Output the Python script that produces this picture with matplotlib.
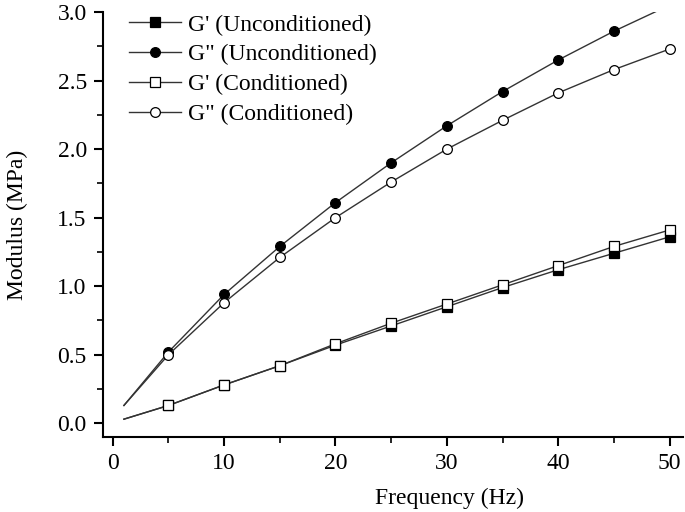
import matplotlib.pyplot as plt
from matplotlib.ticker import MultipleLocator

plt.rcParams['font.family'] = ['Liberation Serif', 'DejaVu Serif']

freq = [1, 5, 10, 15, 20, 25, 30, 35, 40, 45, 50]
g1_uncond = [0.03, 0.13, 0.28, 0.42, 0.57, 0.71, 0.85, 0.99, 1.12, 1.24, 1.36]
g2_uncond = [0.13, 0.52, 0.94, 1.29, 1.61, 1.90, 2.17, 2.42, 2.65, 2.86, 3.05]
g1_cond = [0.03, 0.13, 0.28, 0.42, 0.58, 0.73, 0.87, 1.01, 1.15, 1.29, 1.41]
g2_cond = [0.13, 0.50, 0.88, 1.21, 1.50, 1.76, 2.00, 2.21, 2.41, 2.58, 2.73]

labels = ["G' (Unconditioned)", 'G" (Unconditioned)', "G' (Conditioned)", 'G" (Conditioned)']

fig = plt.figure(figsize=(6.85, 5.12), dpi=100)
ax = fig.add_axes([0.150, 0.1465, 0.847, 0.830])

lc = '#333333'
mk = dict(markersize=7, markeredgecolor='black', markeredgewidth=0.9, markevery=slice(1, None))
ax.plot(freq, g1_uncond, '-', color=lc, lw=1.0, marker='s', markerfacecolor='black', label=labels[0], **mk)
ax.plot(freq, g2_uncond, '-', color=lc, lw=1.0, marker='o', markerfacecolor='black', label=labels[1], **mk)
ax.plot(freq, g1_cond, '-', color=lc, lw=1.0, marker='s', markerfacecolor='white', label=labels[2], **mk)
ax.plot(freq, g2_cond, '-', color=lc, lw=1.0, marker='o', markerfacecolor='white', label=labels[3], **mk)

ax.set_xlim(-0.9, 51.2)
ax.set_ylim(-0.1, 3.0)
ax.spines['top'].set_visible(False)
ax.spines['right'].set_visible(False)
ax.spines['left'].set_linewidth(1.5)
ax.spines['bottom'].set_linewidth(1.5)

ax.xaxis.set_major_locator(MultipleLocator(10))
ax.xaxis.set_minor_locator(MultipleLocator(5))
ax.yaxis.set_major_locator(MultipleLocator(0.5))
ax.yaxis.set_minor_locator(MultipleLocator(0.25))
ax.yaxis.set_major_formatter(plt.FormatStrFormatter('%.1f'))
ax.tick_params(which='major', direction='out', length=6.5, width=1.5, labelsize=17, pad=5)
ax.tick_params(which='minor', direction='out', length=4, width=1.2)

ax.set_xlabel('Frequency (Hz)', fontsize=17, labelpad=10)
ax.xaxis.label.set_x(0.597)
ax.set_ylabel('Modulus (MPa)', fontsize=17, labelpad=21)

ax.legend(loc='upper left', bbox_to_anchor=(0.008, 1.045), frameon=False, fontsize=17,
          handlelength=2.2, handletextpad=0.3, labelspacing=0.35)

fig.savefig('out.png', dpi=100)
